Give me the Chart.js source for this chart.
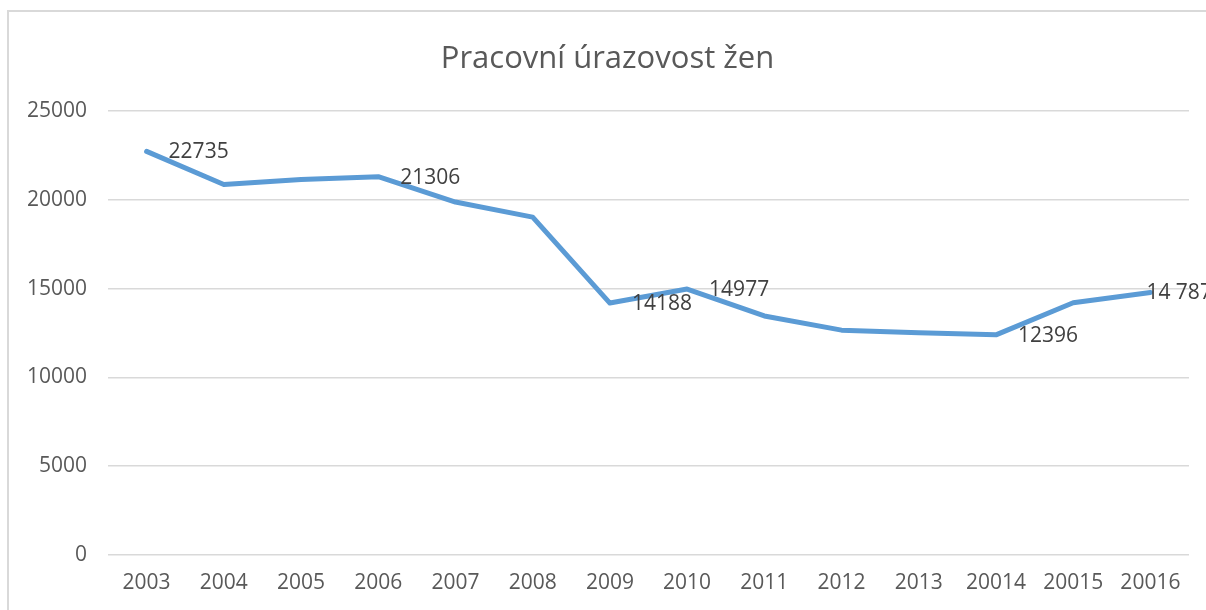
<!DOCTYPE html>
<html>
<head>
<meta charset="utf-8">
<script src="https://cdn.jsdelivr.net/npm/chart.js@4"></script>
<style>
  html, body { margin: 0; padding: 0; background: #fff; overflow: hidden; }
  #frame { position: absolute; left: 7px; top: 10px; width: 1220px; height: 640px; border: 2px solid #d9d9d9; }
  #wrap { position: absolute; left: 0; top: 0; width: 1206px; height: 610px; }
</style>
</head>
<body>
<div id="frame"></div>
<div id="wrap"><canvas id="lineChart" width="1206" height="610"></canvas></div>
<script>
// Pracovní úrazovost žen
const years = ["2003", "2004", "2005", "2006", "2007", "2008", "2009",
  "2010", "2011", "2012", "2013", "20014", "20015", "20016"];

const injuries = [22735, 20870, 21150, 21306, 19880, 19030, 14188,
  14977, 13460, 12660, 12520, 12396, 14206, 14787];

// only some points carry a label in the original
const pointLabels = ["22735", "", "", "21306", "", "", "14188",
  "14977", "", "", "", "12396", "", "14 787"];

const yTicks = [0, 5000, 10000, 15000, 20000, 25000];

const FONT = "'Open Sans', 'Liberation Sans', sans-serif";

// draw value labels to the right of selected points
const valueLabels = {
  id: "valueLabels",
  afterDatasetsDraw(chart) {
    const ctx = chart.ctx;
    const meta = chart.getDatasetMeta(0);
    ctx.save();
    ctx.font = "21px " + FONT;
    ctx.fillStyle = "#404040";
    ctx.textAlign = "left";
    ctx.textBaseline = "middle";
    meta.data.forEach((pt, i) => {
      const txt = pointLabels[i];
      if (!txt) return;
      const dx = i === meta.data.length - 1 ? -4 : 22;
      ctx.fillText(txt, pt.x + dx, pt.y + 1);
    });
    ctx.restore();
  }
};

const ctx = document.getElementById("lineChart").getContext("2d");
new Chart(ctx, {
  type: "line",
  data: {
    labels: years,
    datasets: [{
      label: "Pracovní úrazovost žen",
      data: injuries,
      borderColor: "#5B9BD5",
      borderWidth: 5,
      borderJoinStyle: "round",
      borderCapStyle: "round",
      pointRadius: 0,
      tension: 0,
      fill: false
    }]
  },
  options: {
    responsive: false,
    animation: false,
    layout: { padding: { left: 9, right: 0, top: 0, bottom: 6 } },
    plugins: {
      legend: { display: false },
      tooltip: { enabled: false },
      title: {
        display: true,
        text: "Pracovní úrazovost žen",
        color: "#595959",
        font: { family: FONT, size: 31, weight: "normal", lineHeight: 1.2 },
        padding: { top: 41, bottom: 33 }
      }
    },
    scales: {
      x: {
        offset: true,
        grid: { display: false },
        border: { display: false },
        ticks: {
          color: "#595959",
          font: { family: FONT, size: 21, lineHeight: 1.2 },
          padding: 8,
          maxRotation: 0,
          autoSkip: false
        }
      },
      y: {
        min: 0,
        max: 25000,
        afterFit(scale) { scale.width = 99; },
        afterBuildTicks(scale) { scale.ticks = yTicks.map(v => ({ value: v })); },
        grid: { color: "#d9d9d9", lineWidth: 1.5, drawTicks: false },
        border: { display: false },
        ticks: {
          color: "#595959",
          font: { family: FONT, size: 21 },
          padding: 21,
          callback: v => String(v)
        }
      },
      // empty spacer on the right so the plot ends where the original does
      yRight: {
        position: "right",
        min: 0,
        max: 25000,
        afterFit(scale) { scale.width = 17; },
        grid: { display: false },
        border: { display: false },
        ticks: { display: false }
      }
    }
  },
  plugins: [valueLabels]
});
</script>
</body>
</html>
